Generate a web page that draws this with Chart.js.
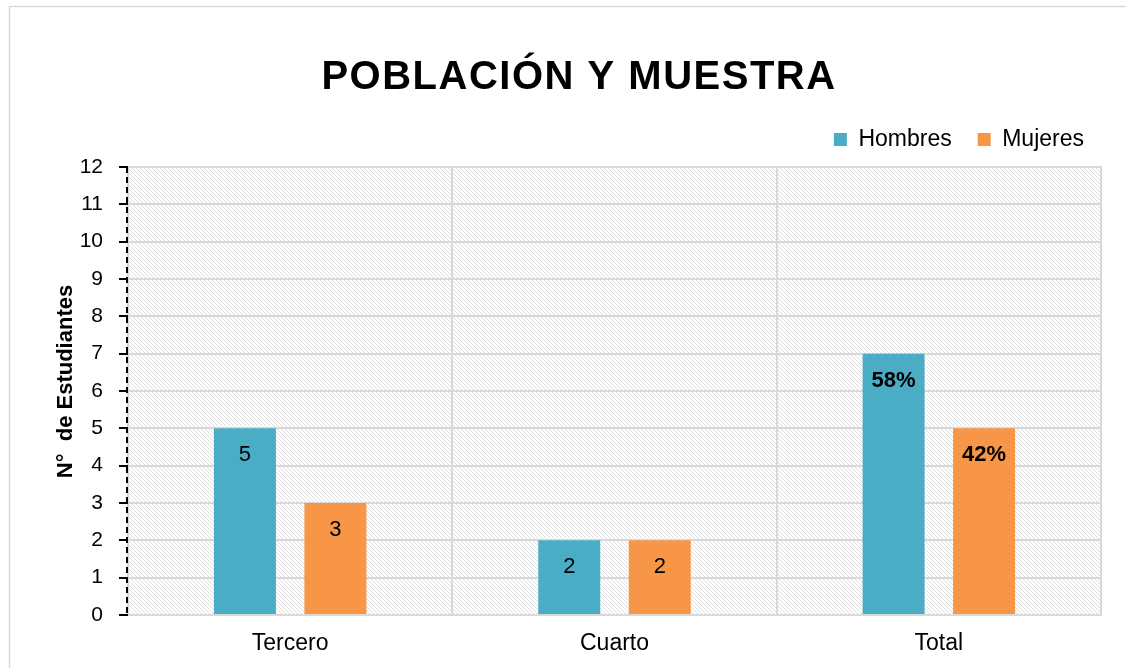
<!DOCTYPE html>
<html>
<head>
<meta charset="utf-8">
<script src="https://cdn.jsdelivr.net/npm/chart.js@4.4.1/dist/chart.umd.min.js"></script>
<style>
html,body{margin:0;padding:0;background:#fff;}
#wrap{position:relative;width:1126px;height:668px;}
</style>
</head>
<body>
<div id="wrap"><canvas id="c" width="1126" height="668"></canvas></div>
<script>
const chartTitle = 'POBLACIÓN Y MUESTRA';
const yAxisTitle = 'N°  de Estudiantes';
const categories = ['Tercero', 'Cuarto', 'Total'];
const seriesNames = ['Hombres', 'Mujeres'];
const hombres = [5, 2, 7];
const mujeres = [3, 2, 5];
const hombresLabels = ['5', '2', '58%'];
const mujeresLabels = ['3', '2', '42%'];
const yTicks = [0,1,2,3,4,5,6,7,8,9,10,11,12];

const FONT = "'Liberation Sans', Arial, sans-serif";

function makePattern(ctx){
  const t = document.createElement('canvas');
  t.width = 8; t.height = 8;
  const g = t.getContext('2d');
  const img = g.createImageData(8, 8);
  for (let y = 0; y < 8; y++) {
    for (let x = 0; x < 8; x++) {
      const i = (y * 8 + x) * 4;
      const on = ((x - y + 16) % 4) === 0;
      const v = on ? 222 : 255;
      img.data[i] = v; img.data[i+1] = v; img.data[i+2] = v; img.data[i+3] = 255;
    }
  }
  g.putImageData(img, 0, 0);
  return ctx.createPattern(t, 'repeat');
}

const bgPlugin = {
  id: 'bgPlugin',
  beforeDraw(chart){
    const {ctx, chartArea:a} = chart;
    ctx.save();
    ctx.fillStyle = '#fff';
    ctx.fillRect(0,0,chart.width,chart.height);
    ctx.strokeStyle = '#d9d9d9';
    ctx.lineWidth = 1.5;
    ctx.strokeRect(9.5,6.5,chart.width+10,chart.height+10);
    ctx.fillStyle = makePattern(ctx);
    ctx.fillRect(a.left,a.top,a.right-a.left,a.bottom-a.top);
    ctx.strokeStyle = '#d9d9d9';
    ctx.lineWidth = 2;
    ctx.strokeRect(a.left,a.top,a.right-a.left,a.bottom-a.top);
    ctx.fillStyle = '#000';
    ctx.font = 'bold 40px ' + FONT;
    ctx.textAlign = 'center';
    ctx.textBaseline = 'alphabetic';
    try { ctx.letterSpacing = '1.5px'; } catch(e) {}
    ctx.fillText(chartTitle, 579, 89);
    try { ctx.letterSpacing = '0px'; } catch(e) {}
    ctx.translate(66, 381.5);
    ctx.rotate(-Math.PI/2);
    ctx.font = 'bold 22px ' + FONT;
    ctx.textBaseline = 'middle';
    ctx.fillText(yAxisTitle, 0, 0);
    ctx.restore();
  },
  afterDraw(chart){
    const {ctx} = chart;
    const y = chart.scales.y;
    ctx.save();
    ctx.strokeStyle = '#000';
    ctx.lineWidth = 2;
    ctx.setLineDash([6, 4]);
    ctx.beginPath();
    ctx.moveTo(y.right - 1, y.getPixelForValue(yTicks[yTicks.length-1]));
    ctx.lineTo(y.right - 1, y.getPixelForValue(yTicks[0]));
    ctx.stroke();
    ctx.restore();
  }
};

const labelPlugin = {
  id: 'labelPlugin',
  afterDatasetsDraw(chart){
    const {ctx} = chart;
    const sets = [hombresLabels, mujeresLabels];
    ctx.save();
    ctx.fillStyle = '#000';
    ctx.textAlign = 'center';
    ctx.textBaseline = 'middle';
    chart.data.datasets.forEach((ds, di) => {
      const meta = chart.getDatasetMeta(di);
      meta.data.forEach((bar, i) => {
        const txt = sets[di][i];
        const bold = txt.indexOf('%') >= 0;
        ctx.font = (bold ? 'bold ' : '') + '22px ' + FONT;
        ctx.fillText(txt, bar.x, bar.y + 27);
      });
    });
    ctx.restore();
  }
};

function spacer(position, size){
  return {
    position: position, weight: 0, fullSize: false,
    options: {},
    top: 0, left: 0, bottom: 0, right: 0, width: 0, height: 0,
    isHorizontal(){ return position === 'top' || position === 'bottom'; },
    update(maxWidth, maxHeight){
      if (this.isHorizontal()) { this.width = maxWidth; this.height = size; }
      else { this.width = size; this.height = maxHeight; }
    },
    draw(){}
  };
}

const spacerPlugin = {
  id: 'spacerPlugin',
  start(chart){
    Chart.layouts.addBox(chart, spacer('top', 6));
    Chart.layouts.addBox(chart, spacer('right', 9));
  }
};

new Chart(document.getElementById('c'), {
  type: 'bar',
  data: {
    labels: categories,
    datasets: [
      {label: seriesNames[0], data: hombres, backgroundColor: '#4BACC6', categoryPercentage: 0.558, barPercentage: 0.685},
      {label: seriesNames[1], data: mujeres, backgroundColor: '#F79646', categoryPercentage: 0.558, barPercentage: 0.685}
    ]
  },
  options: {
    responsive: false,
    animation: false,
    layout: {padding: {left: 0, right: 16, top: 102, bottom: 10}},
    plugins: {
      title: {display: false},
      legend: {
        position: 'top',
        align: 'end',
        labels: {
          color: '#000',
          font: {family: FONT, size: 23},
          boxWidth: 13, boxHeight: 13,
          padding: 26
        }
      },
      tooltip: {enabled: false}
    },
    scales: {
      x: {
        afterFit(axis){ axis.height = 43; },
        grid: {color: '#d9d9d9', lineWidth: 2, offset: true, drawTicks: false},
        border: {display: false},
        ticks: {color: '#000', font: {family: FONT, size: 23}, padding: 15}
      },
      y: {
        min: 0, max: 12,
        afterBuildTicks(axis){ axis.ticks = yTicks.map(v => ({value: v})); },
        afterFit(axis){ axis.width = 128; },
        grid: {color: '#d9d9d9', lineWidth: 2, tickLength: 9, tickColor: '#000', tickWidth: 2},
        border: {display: false},
        ticks: {color: '#000', font: {family: FONT, size: 21}, padding: 16},
        title: {display: false}
      }
    }
  },
  plugins: [spacerPlugin, bgPlugin, labelPlugin]
});
</script>
</body>
</html>
